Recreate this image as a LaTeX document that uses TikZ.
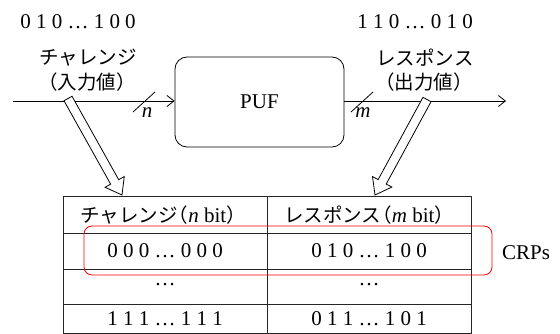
\documentclass[tikz,border=0pt]{standalone}
\usepackage{fontspec}
\setmainfont{Liberation Serif}
\newfontfamily\jp{Noto Sans CJK JP}
\usetikzlibrary{arrows.meta,calc}
\newcommand{\lop}{\kern-0.45em（}
\newcommand{\lcl}{）}
\tikzset{
  lat/.style={font=\fontsize{21}{25}\selectfont, inner sep=0pt},
  jpt/.style={font=\jp\fontsize{19.5}{23}\selectfont, inner sep=0pt},
  sig/.style={line width=0.8pt, -{Straight Barb[length=7pt,width=11pt]}},
  pufbox/.style={draw, line width=0.8pt, rounded corners=12pt},
  tbl/.style={line width=1pt, draw=black!85},
  hollow/.style={draw, line width=0.8pt, fill=white, line join=miter},
  crp/.style={draw=red, line width=0.8pt, rounded corners=8pt},
}
\begin{document}
\begin{tikzpicture}[x=1pt,y=-1pt]
\useasboundingbox (0,0) rectangle (560,334);
% top labels
\node[lat] (cin) at (78,22) {0 1 0 … 1 0 0};
\node[lat] (cout) at (415,22) {1 1 0 … 0 1 0};
\node[jpt] (chl) at (88,58) {チャレンジ};
\node[jpt] (chl2) at (87,82) {（入力値）};
\node[jpt] (rsp) at (425,58) {レスポンス};
\node[jpt] (rsp2) at (424,82) {（出力値）};
% PUF
\node[pufbox, minimum width=169pt, minimum height=90pt, lat] (puf) at (259.5,102) {PUF};
\coordinate (lin) at (13,101);
\coordinate (rout) at (506,101);
\draw[sig] (lin) -- (puf.west |- lin);
\draw[sig] (puf.east |- rout) -- (rout);
% bus slashes
\coordinate (s1a) at (133,112); \coordinate (s1b) at (155,92);
\draw[line width=0.8pt] (s1a) -- (s1b);
\node[lat, font=\fontsize{21}{25}\selectfont\itshape] (nl) at (147,113) {n};
\coordinate (s2a) at (351,112); \coordinate (s2b) at (373,92);
\draw[line width=0.8pt] (s2a) -- (s2b);
\node[lat, font=\fontsize{21}{25}\selectfont\itshape] (ml) at (363,113) {m};
% table
\draw[tbl] (63,197) rectangle (471,333);
\draw[tbl] (267,197) -- (267,333);
\draw[tbl] (63,233) -- (471,233);
\draw[tbl] (63,269) -- (471,269);
\draw[tbl] (63,304) -- (471,304);
\node[jpt] (h1) at (163,215) {チャレンジ\lop{\rmfamily\fontsize{21}{25}\selectfont\textit{n} bit}\lcl};
\node[jpt] (h2) at (369,215) {レスポンス\lop{\rmfamily\fontsize{21}{25}\selectfont\textit{m} bit}\lcl};
\node[lat] (r1a) at (165,251) {0 0 0 … 0 0 0};
\node[lat] (r1b) at (369,251) {0 1 0 … 1 0 0};
\node[lat] (r2a) at (165,285) {…};
\node[lat] (r2b) at (369,285) {…};
\node[lat] (r3a) at (165,319) {1 1 1 … 1 1 1};
\node[lat] (r3b) at (369,319) {0 1 1 … 1 0 1};
% CRP box
\draw[crp] (84,226) rectangle (492,275);
\node[lat] (crps) at (526,253) {CRPs};
% hollow arrows
\coordinate (A1) at (68,98.5); \coordinate (T1) at (122,195);
\coordinate (H1) at ($(T1)!15pt!(A1)$);
\draw[hollow] ($(A1)!4.6pt!90:(T1)$) -- ($(H1)!4.6pt!90:(T1)$) -- ($(H1)!11pt!90:(T1)$) -- (T1) -- ($(H1)!11pt!-90:(T1)$) -- ($(H1)!4.6pt!-90:(T1)$) -- ($(A1)!4.6pt!-90:(T1)$) -- cycle;
\coordinate (A2) at (427,99.5); \coordinate (T2) at (375,195);
\coordinate (H2) at ($(T2)!15pt!(A2)$);
\draw[hollow] ($(A2)!4.6pt!90:(T2)$) -- ($(H2)!4.6pt!90:(T2)$) -- ($(H2)!11pt!90:(T2)$) -- (T2) -- ($(H2)!11pt!-90:(T2)$) -- ($(H2)!4.6pt!-90:(T2)$) -- ($(A2)!4.6pt!-90:(T2)$) -- cycle;
\end{tikzpicture}
\end{document}
